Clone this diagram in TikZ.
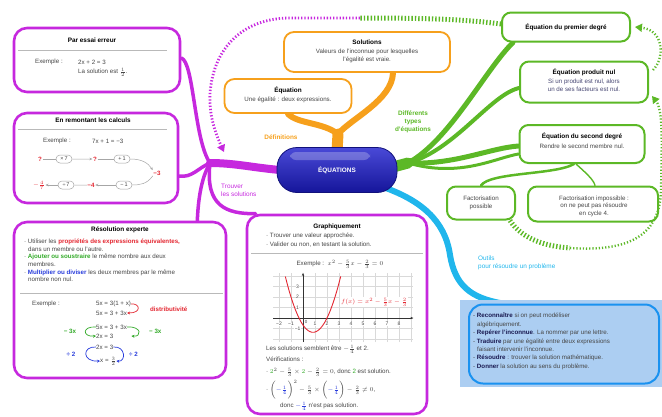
\documentclass[tikz,border=0pt]{standalone}
\usepackage{fontspec}
\setmainfont{Liberation Sans}
\usetikzlibrary{arrows.meta,calc,shapes.misc,backgrounds}
\definecolor{mpurple}{RGB}{198,40,222}
\definecolor{morange}{RGB}{246,160,28}
\definecolor{mgreen}{RGB}{92,184,38}
\definecolor{mcyan}{RGB}{32,182,236}
\definecolor{mblue}{RGB}{28,28,205}
\definecolor{txtgray}{RGB}{70,70,70}
\definecolor{mred}{RGB}{228,40,50}
\definecolor{mgreentxt}{RGB}{50,170,40}
\definecolor{mbluetxt}{RGB}{40,60,220}
\definecolor{lblue}{RGB}{172,206,242}
\definecolor{navy}{RGB}{25,25,80}
\tikzset{
  pbox/.style={draw=mpurple, line width=2.6pt, rounded corners=13pt, fill=white, inner sep=0pt},
  obox/.style={draw=morange, line width=1.8pt, rounded corners=10pt, fill=white, inner sep=0pt},
  gbox/.style={draw=mgreen, line width=2pt, rounded corners=9pt, fill=white, inner sep=0pt},
  tx/.style={font=\fontsize{6.2}{7.6}\selectfont, text=txtgray, inner sep=0pt},
  ttl/.style={font=\fontsize{6.4}{7.6}\selectfont\bfseries, text=black, inner sep=0pt},
  sepline/.style={draw=gray!55, line width=0.7pt},
  oval/.style={draw=gray!70, rounded rectangle, line width=0.5pt, minimum width=18pt, minimum height=8pt, inner sep=1pt, font=\fontsize{5.5}{6}\selectfont, text=txtgray},
  rq/.style={font=\fontsize{6.2}{7}\selectfont\bfseries, text=mred, inner sep=0.5pt},
  ar/.style={-{Stealth[length=3pt,width=2.5pt]}, draw=gray!70, line width=0.5pt},
  thinl/.style={draw=gray!70, line width=0.5pt},
  pbr/.style={draw=mpurple, line cap=round},
  obr/.style={draw=morange, line cap=round},
  gbr/.style={draw=mgreen, line cap=round},
  cbr/.style={draw=mcyan, line cap=round},
  gdash/.style={draw=mgreen, line width=5pt, dash pattern=on 1.4pt off 2pt},
  gdots/.style={draw=mgreen, line width=2.4pt, dash pattern=on 1.2pt off 2pt},
  pdots/.style={draw=mpurple, line width=2.8pt, dash pattern=on 1.3pt off 1.9pt},
  gtip/.style={-{Triangle[length=7pt,width=8pt]}},
  lbl/.style={font=\fontsize{6.4}{7.8}\selectfont\bfseries, align=center, inner sep=0pt},
  lblr/.style={font=\fontsize{6.4}{7.8}\selectfont, align=left, inner sep=0pt},
  curvar/.style={-{Stealth[length=3pt,width=3pt]}, line width=0.7pt},
}
\begin{document}
\begin{tikzpicture}[x=1pt,y=-1pt]
\useasboundingbox (0,0) rectangle (662,416);

% ---------- centre ----------
\node[draw=mblue!60!black, line width=0.8pt, rounded corners=20pt, minimum width=120pt, minimum height=45pt,
      top color=mblue!80!white, middle color=mblue!95!black, bottom color=mblue!75!black,
      text=white, font=\fontsize{6.4}{7}\selectfont\bfseries] (centre) at (337,170) {ÉQUATIONS};
\node[fill=white, opacity=0.25, rounded corners=6pt, minimum width=80pt, minimum height=8pt, inner sep=0pt] (gloss) at (330,156) {};

% ---------- orange ----------
\node[obox, minimum width=166pt, minimum height=40pt] (solutions) at (367,52) {};
\node[ttl] (solT) at (367,42) {Solutions};
\node[tx, align=center] (solB) at (367,56) {Valeurs de l'inconnue pour lesquelles\\l'égalité est vraie.};
\node[obox, minimum width=127pt, minimum height=34pt] (equation) at (288,96) {};
\node[ttl] (eqT) at (288,90) {Équation};
\node[tx] (eqB) at (288,100) {Une égalité : deux expressions.};
\node[lbl, text=morange] (defL) at (281,137) {Définitions};

% ---------- green ----------
\node[gbox, minimum width=128pt, minimum height=29pt] (premier) at (566,27) {};
\node[ttl] (premT) at (566,27) {Équation du premier degré};
\node[gbox, minimum width=128pt, minimum height=41pt] (produit) at (584,82) {};
\node[ttl] (prodT) at (584,72) {Équation produit nul};
\node[tx, align=center, text=navy!80] (prodB) at (584,85) {Si un produit est nul, alors\\un de ses facteurs est nul.};
\node[gbox, minimum width=125pt, minimum height=38pt] (second) at (582,144) {};
\node[ttl] (secT) at (582,136) {Équation du second degré};
\node[tx] (secB) at (582,146) {Rendre le second membre nul.};
\node[gbox, minimum width=68pt, minimum height=33pt] (factpos) at (481,203) {};
\node[tx, align=center] (fpB) at (481,203) {Factorisation\\possible};
\node[gbox, minimum width=130pt, minimum height=35pt] (factimp) at (593,204) {};
\node[tx, align=center] (fiB) at (594,206) {Factorisation impossible :\\on ne peut pas résoudre\\en cycle 4.};
\node[lbl, text=mgreen] (difL) at (413,122) {Différents\\types\\d'équations};

% ---------- cyan ----------
\node[fill=lblue, minimum width=202pt, minimum height=87pt, inner sep=0pt] (outbg) at (561,343.5) {};
\node[draw=mcyan!80!blue, line width=2pt, rounded corners=14pt, minimum width=190pt, minimum height=79pt, inner sep=0pt] (outils) at (564,344) {};
\node[tx, anchor=north west, align=left, font=\fontsize{6.2}{8.4}\selectfont] (outT) at (473,313) {%
- \textbf{\color{navy}Reconnaître} si on peut modéliser\\
\hspace*{4pt}algébriquement.\\
- \textbf{\color{navy}Repérer l'inconnue}. La nommer par une lettre.\\
- \textbf{\color{navy}Traduire} par une égalité entre deux expressions\\
\hspace*{4pt}faisant intervenir l'inconnue.\\
- \textbf{\color{navy}Résoudre} : trouver la solution mathématique.\\
- \textbf{\color{navy}Donner} la solution au sens du problème.};
\node[lblr, text=mcyan, anchor=north west] (outL) at (478,256) {Outils\\pour résoudre un problème};

% ---------- purple boxes ----------
\node[pbox, minimum width=166pt, minimum height=64pt] (essai) at (97,60) {};
\node[ttl] (essT) at (92,40) {Par essai erreur};
\draw[sepline] (18,50) -- (167,50);
\node[tx, anchor=west] (essE) at (35,62) {Exemple :};
\node[tx, anchor=west] (essQ) at (78,62) {2x + 2 = 3};
\node[tx, anchor=west] (essS) at (78,72) {La solution est $\frac{1}{2}$.};

\node[pbox, minimum width=164pt, minimum height=90pt] (remont) at (96,158) {};
\node[ttl] (remT) at (93,120) {En remontant les calculs};
\draw[sepline] (18,129) -- (167,129);
\node[tx, anchor=west] (remE) at (43,141) {Exemple :};
\node[tx, anchor=west] (remQ) at (92,141) {7x + 1 = −3};
\node[rq] (q1) at (40,159) {?};
\node[oval] (o1) at (64,159) {×\,7};
\node[rq] (q2) at (95,159) {?};
\node[oval] (o2) at (122,159) {+\,1};
\node[rq] (r3) at (157,173) {−3};
\node[rq] (s1) at (39,185) {$-\frac{4}{7}$};
\node[oval] (o3) at (66,185) {÷\,7};
\node[rq] (s2) at (91,185) {−4};
\node[oval] (o4) at (124,185) {−\,1};
\draw[thinl] (q1) -- (o1);
\draw[ar] (o1) -- (q2);
\draw[thinl] (q2) -- (o2);
\draw[ar] (o2.east) .. controls (142,159) and (148,163) .. (r3.north west);
\draw[thinl] (r3.south west) .. controls (147,184) and (140,185) .. (o4.east);
\draw[ar] (o4) -- (s2);
\draw[thinl] (s2) -- (o3);
\draw[ar] (o3) -- (s1);

\node[pbox, minimum width=212pt, minimum height=156pt] (expert) at (120,300) {};
\node[ttl] (expT) at (120,230) {Résolution experte};
\node[tx, anchor=north west, align=left] (expB) at (24,239) {%
· Utiliser les \textbf{\color{mred}propriétés des expressions équivalentes,}\\
\hspace*{4pt}dans un membre ou l'autre.\\
· \textbf{\color{mgreentxt}Ajouter ou soustraire} le même nombre aux deux\\
\hspace*{4pt}membres.\\
· \textbf{\color{mbluetxt}Multiplier ou diviser} les deux membres par le même\\
\hspace*{4pt}nombre non nul.};
\draw[sepline] (20,293) -- (223,293);
\node[tx, anchor=west] (expE) at (32,304) {Exemple :};
\node[tx, anchor=west] (ex1) at (96,304) {5x = 3(1 + x)};
\node[tx, anchor=west] (ex2) at (96,313) {5x = 3 + 3x};
\draw[curvar, mred] (ex1.east) .. controls (140,303) and (142,313) .. (ex2.east);
\node[tx, anchor=west, text=mred, font=\fontsize{6.2}{7}\selectfont\bfseries] (dist) at (150,309) {distributivité};
\node[tx, anchor=west] (ex3) at (96,327) {5x = 3 + 3x};
\node[tx, anchor=west] (ex4) at (96,336) {2x = 3};
\draw[curvar, mgreentxt] (ex3.west) .. controls (82,326) and (82,337) .. (ex4.west);
\draw[curvar, mgreentxt] (ex3.east) .. controls (142,326) and (142,337) .. ($(ex4.east)+(18,0)$);
\node[tx, text=mgreentxt, font=\fontsize{6.2}{7}\selectfont\bfseries] (m3a) at (70,331) {− 3x};
\node[tx, text=mgreentxt, font=\fontsize{6.2}{7}\selectfont\bfseries, anchor=west] (m3b) at (149,331) {− 3x};
\node[tx, anchor=west] (ex5) at (96,347) {2x = 3};
\node[tx, anchor=west] (ex6) at (100,361) {x = $\frac{3}{2}$};
\draw[curvar, mbluetxt] (ex5.west) .. controls (82,346) and (82,362) .. (ex6.west);
\draw[curvar, mbluetxt] (ex5.east) .. controls (126,346) and (126,362) .. (ex6.east);
\node[tx, text=mbluetxt, font=\fontsize{6.2}{7}\selectfont\bfseries] (d2a) at (71,354) {÷ 2};
\node[tx, text=mbluetxt, font=\fontsize{6.2}{7}\selectfont\bfseries, anchor=west] (d2b) at (129,354) {÷ 2};

% ---------- graph box ----------
\node[pbox, minimum width=180pt, minimum height=199pt] (graph) at (337,314.5) {};
\node[ttl] (grT) at (337,227) {Graphiquement};
\node[tx, anchor=west] (grB1) at (266,236) {· Trouver une valeur approchée.};
\node[tx, anchor=west] (grB2) at (266,245) {· Valider ou non, en testant la solution.};
\draw[sepline] (251,253) -- (423,253);
\node[tx] (grE) at (340,264) {Exemple :\ \ $x^2-\frac{5}{3}x-\frac{2}{3}=0$};
\begin{scope}[shift={(303,318)}, x=12pt, y=10.5pt]
  \draw[gray!30, line width=0.3pt, step=1] (-2.5,-2.3) grid (9.2,4.3);
  \draw[-{Stealth[length=3pt]}, line width=0.6pt, black!80] (-2.5,0) -- (9.2,0);
  \draw[-{Stealth[length=3pt]}, line width=0.6pt, black!80] (0,-2.3) -- (0,4.3);
  \foreach \i/\l in {-2/−2,-1/−1,1/1,2/2,3/3,4/4,5/5,6/6,7/7,8/8}
    \node[tx, font=\fontsize{5}{5}\selectfont, fill=white, inner sep=0.4pt] (xl\i) at (\i,-0.55) {\l};
  \foreach \j/\l in {-1/−1,1/1,2/2,3/3}
    \node[tx, font=\fontsize{5}{5}\selectfont, fill=white, inner sep=0.4pt] (yl\j) at (-0.45,\j) {\l};
  \node[tx, font=\fontsize{4.5}{5}\selectfont] (orig) at (0.25,-0.4) {0};
  \draw[mred, line width=0.9pt, domain=-1.47:3.14, samples=60] plot (\x, {\x*\x - 5/3*\x - 2/3});
  \node[tx, text=mred, anchor=west, fill=white, inner sep=0.6pt, font=\fontsize{6.2}{7}\selectfont\bfseries] (flab) at (3.1,1.5) {$f(x)=x^2-\frac{5}{3}x-\frac{2}{3}$};
\end{scope}
\node[tx, anchor=west] (grS) at (266,349) {Les solutions semblent être $-\frac{1}{4}$ et 2.};
\node[tx, anchor=west] (grV) at (266,359) {Vérifications :};
\node[tx, anchor=west] (grV1) at (266,372) {· ${\color{mgreentxt}2}^2-\frac{5}{3}\times {\color{mgreentxt}2}-\frac{2}{3}=0$, donc \textcolor{mgreentxt}{2} est solution.};
\node[tx, anchor=west] (grV2) at (266,390) {· $\bigl({\color{mbluetxt}-\frac{1}{4}}\bigr)^2-\frac{5}{3}\times\bigl({\color{mbluetxt}-\frac{1}{4}}\bigr)-\frac{2}{3}\neq 0$,};
\node[tx, anchor=west] (grV3) at (280,406) {donc ${\color{mbluetxt}-\frac{1}{4}}$ n'est pas solution.};

\node[lblr, text=mpurple, anchor=west] (trL) at (221,190) {Trouver\\les solutions};

% ---------- branches ----------
\begin{scope}[on background layer]
  \coordinate (oj) at (338,134);
  \draw[obr, line width=11pt] ($(centre.north)+(0,4)$) -- (oj);
  \draw[obr, line width=6pt] (oj) .. controls (322,122) and (298,124) .. (equation.south);
  \draw[obr, line width=6pt] (oj) .. controls (352,118) and (392,100) .. ($(solutions.south)+(26,0)$);

  \coordinate (gj) at (408,163);
  \draw[gbr, line width=11pt] ($(centre.east)+(-8,-2)$) -- (gj);
  \draw[gbr, line width=5pt] (gj) .. controls (450,140) and (485,70) .. ($(premier.south west)+(12,0)$);
  \draw[gbr, line width=4pt] (gj) .. controls (455,150) and (490,95) .. ($(produit.west)+(0,6)$);
  \draw[gbr, line width=5pt] (gj) .. controls (455,165) and (490,148) .. ($(second.west)+(0,2)$);
  \draw[gbr, line width=3pt] (gj) .. controls (460,178) and (495,158) .. ($(second.west)+(0,10)$);
  \draw[gbr, line width=2.5pt] ($(second.south)+(-8,0)$) .. controls (555,175) and (490,172) .. (factpos.north);
  \draw[gbr, line width=1.4pt] ($(second.south)+(-6,0)$) .. controls (585,172) and (594,180) .. ($(factimp.north)+(2,0)$);

  \draw[cbr, line width=6pt] (383,187) .. controls (420,200) and (445,220) .. (450,255) .. controls (455,285) and (470,298) .. ($(outils.north west)+(35,0)$);

  \coordinate (pj) at (210,163);
  \draw[pbr, line width=8pt] ($(centre.west)+(4,0)$) .. controls (255,168) and (235,163) .. (pj);
  \draw[pbr, line width=3.5pt] (pj) .. controls (194,140) and (194,62) .. ($(essai.east)+(0,-2)$);
  \draw[pbr, line width=3.5pt] (pj) .. controls (198,168) and (192,178) .. ($(remont.east)+(0,18)$);
  \draw[pbr, line width=3.5pt] (pj) .. controls (200,180) and (198,205) .. ($(expert.north east)+(-30,0)$);
  \draw[pbr, line width=3.5pt] (pj) .. controls (205,206) and (226,214) .. ($(graph.north west)+(10,0)$);
\end{scope}

% ---------- cross links ----------
\coordinate (a1) at (360,18);
\coordinate (parr) at (224,152);
\draw[gdash] ($(premier.west)+(0,-3)$) .. controls (470,20) and (440,18) .. (a1);
\draw[pdots, -{Triangle[length=7pt,width=8pt]}] (a1) -- (290,18) .. controls (250,18) and (222,40) .. (213,75) .. controls (205,105) and (214,130) .. (parr);

\coordinate (b1) at (570,248);
\coordinate (barr) at (652,96);
\draw[gdash] ($(factpos.south east)+(-6,0)$) .. controls (520,236) and (540,246) .. (b1);
\draw[gdots, gtip, mgreen] (b1) .. controls (630,252) and (660,235) .. (661,190) .. controls (662,140) and (663,110) .. (barr);

\coordinate (carr) at ($(premier.east)+(4,0)$);
\draw[gdots, gtip, mgreen] ($(produit.east)+(4,-12)$) .. controls (665,58) and (664,30) .. (carr);
\end{tikzpicture}
\end{document}
